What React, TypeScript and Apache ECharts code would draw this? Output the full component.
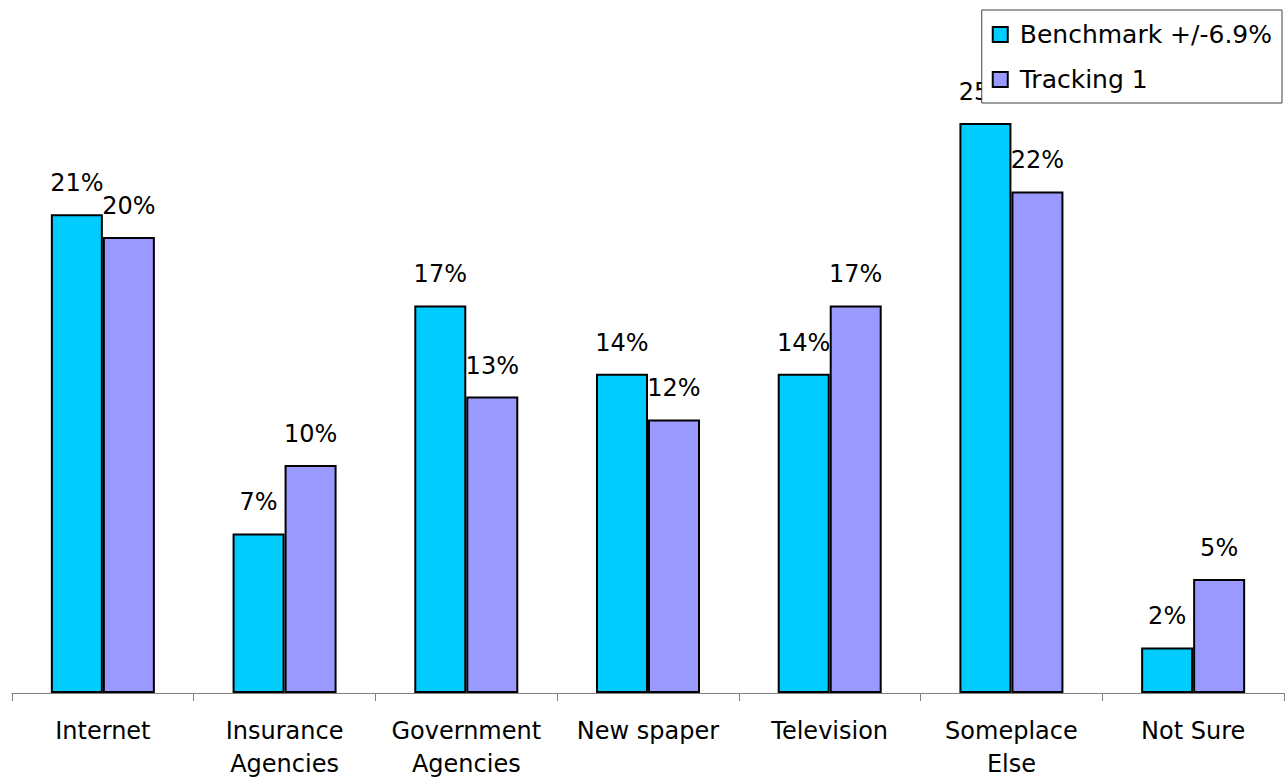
import React, { useEffect, useRef } from "react";
import * as echarts from "echarts";

const categories = [
  "Internet",
  "Insurance\nAgencies",
  "Government\nAgencies",
  "New spaper",
  "Television",
  "Someplace\nElse",
  "Not Sure",
];
const benchmark = [21, 7, 17, 14, 14, 25, 2];
const tracking1 = [20, 10, 13, 12, 17, 22, 5];
const seriesNames = ["Benchmark +/-6.9%", "Tracking 1"];

const FONT = "DejaVu Sans";

export default function App() {
  const ref = useRef<HTMLDivElement>(null);
  useEffect(() => {
    document.body.style.margin = "0";
    const chart = echarts.init(ref.current!, null, { renderer: "svg" });
    const label = {
      show: true,
      position: "top",
      distance: 19,
      formatter: "{c}%",
      color: "#000",
      fontFamily: FONT,
      fontSize: 24,
    };
    chart.setOption({
      animation: false,
      backgroundColor: "#fff",
      grid: {
        left: 12,
        right: 2,
        top: 9,
        bottom: 88,
        containLabel: false,
        outerBoundsMode: "none",
      },
      legend: {
        orient: "vertical",
        right: 4,
        top: 10,
        backgroundColor: "#fff",
        borderColor: "#404040",
        borderWidth: 1,
        padding: [12, 10, 11, 10],
        itemWidth: 15,
        itemHeight: 15,
        itemGap: 20,
        itemStyle: { borderColor: "#000", borderWidth: 2 },
        icon: "rect",
        textStyle: { fontFamily: FONT, fontSize: 25, color: "#000", padding: [0, 0, 0, 7] },
        data: seriesNames,
        z: 10,
      },
      xAxis: {
        type: "category",
        data: categories,
        boundaryGap: true,
        axisLine: { lineStyle: { color: "#808080", width: 1 } },
        axisTick: { show: true, length: 8, lineStyle: { color: "#808080" } },
        axisLabel: {
          interval: 0,
          margin: 21,
          color: "#000",
          fontFamily: FONT,
          fontSize: 24,
          lineHeight: 33,
        },
      },
      yAxis: {
        type: "value",
        min: 0,
        max: 30,
        show: false,
        splitLine: { show: false },
      },
      series: [
        {
          name: seriesNames[0],
          type: "bar",
          data: benchmark,
          barWidth: 52,
          barGap: "0%",
          itemStyle: { color: "#00CCFF", borderColor: "#000", borderWidth: 2 },
          label,
        },
        {
          name: seriesNames[1],
          type: "bar",
          data: tracking1,
          barWidth: 52,
          barGap: "0%",
          itemStyle: { color: "#9999FF", borderColor: "#000", borderWidth: 2 },
          label,
        },
      ],
    });
    return () => chart.dispose();
  }, []);
  return (
    <div
      ref={ref}
      style={{ position: "absolute", left: 0, top: 0, width: 1286, height: 781 }}
    />
  );
}
